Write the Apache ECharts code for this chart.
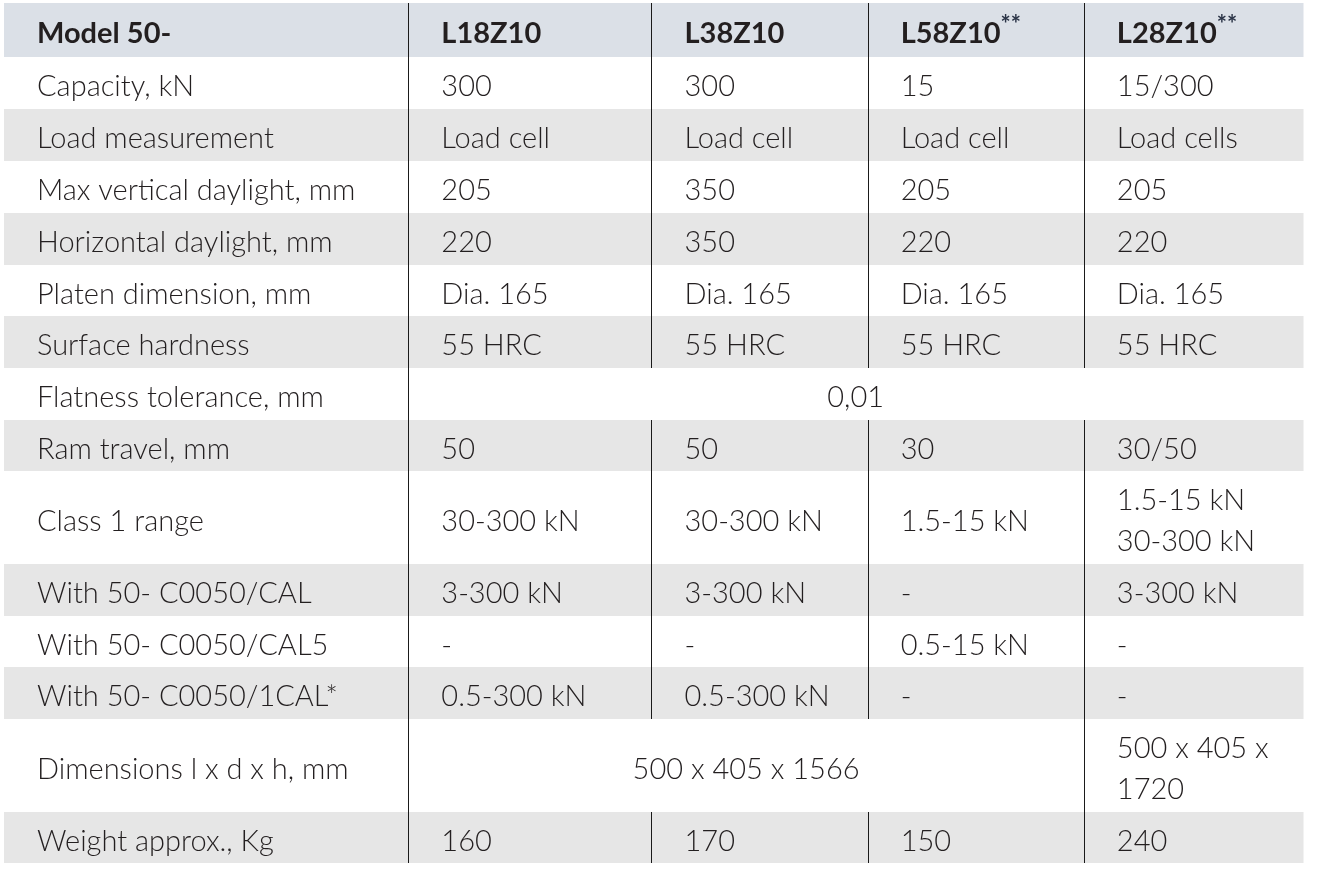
<!DOCTYPE html>
<html>
<head>
<meta charset="utf-8">
<script src="https://cdn.jsdelivr.net/npm/echarts@6/dist/echarts.min.js"></script>
<style>
html,body{margin:0;padding:0;background:#fff;}
#chart{width:1329px;height:877px;}
</style>
</head>
<body>
<div id="chart"></div>
<script>
// ---- data ----
const headerLabel = 'Model 50-';
const models = ['L18Z10', 'L38Z10', 'L58Z10', 'L28Z10'];
const modelNotes = ['', '', '**', '**'];
const rowLabels = [
  'Capacity, kN',
  'Load measurement',
  'Max vertical daylight, mm',
  'Horizontal daylight, mm',
  'Platen dimension, mm',
  'Surface hardness',
  'Flatness tolerance, mm',
  'Ram travel, mm',
  'Class 1 range',
  'With 50- C0050/CAL',
  'With 50- C0050/CAL5',
  'With 50- C0050/1CAL*',
  'Dimensions l x d x h, mm',
  'Weight approx., Kg'
];
const valuesL18Z10 = ['300', 'Load cell', '205', '220', 'Dia. 165', '55 HRC', '0,01', '50', '30-300 kN', '3-300 kN', '-', '0.5-300 kN', '500 x 405 x 1566', '160'];
const valuesL38Z10 = ['300', 'Load cell', '350', '350', 'Dia. 165', '55 HRC', '0,01', '50', '30-300 kN', '3-300 kN', '-', '0.5-300 kN', '500 x 405 x 1566', '170'];
const valuesL58Z10 = ['15', 'Load cell', '205', '220', 'Dia. 165', '55 HRC', '0,01', '30', '1.5-15 kN', '-', '0.5-15 kN', '-', '500 x 405 x 1566', '150'];
const valuesL28Z10 = ['15/300', 'Load cells', '205', '220', 'Dia. 165', '55 HRC', '0,01', '30/50', '1.5-15 kN\n30-300 kN', '3-300 kN', '-', '-', '500 x 405 x\n1720', '240'];
// merged value cells: row label, first and last model column spanned
const merges = [
  { row: 'Flatness tolerance, mm', from: 0, to: 3 },
  { row: 'Dimensions l x d x h, mm', from: 0, to: 2 }
];

// ---- layout (relative units mapped by the axes) ----
const colWidths = [404, 243, 216, 216, 219];
const rowHeights = [54, 52, 52, 52, 52, 51, 52, 52, 51, 93, 52, 51, 52, 93, 51];
const colEdges = [0]; colWidths.forEach(w => colEdges.push(colEdges[colEdges.length - 1] + w));
const rowEdges = [0]; rowHeights.forEach(h => rowEdges.push(rowEdges[rowEdges.length - 1] + h));

const valueCols = [valuesL18Z10, valuesL38Z10, valuesL58Z10, valuesL28Z10];

// build cell list
const cells = [];
function addCell(r, c0, c1, text, kind, align) {
  cells.push({ r, c0, c1, text, kind, align });
}
addCell(0, 0, 1, headerLabel, 'head', 'left');
models.forEach((m, i) => addCell(0, i + 1, i + 2, m, 'head', 'left'));
rowLabels.forEach((lab, ri) => {
  const r = ri + 1;
  addCell(r, 0, 1, lab, 'body', 'left');
  const mg = merges.find(x => x.row === lab);
  for (let i = 0; i < models.length; i++) {
    if (mg && i >= mg.from && i <= mg.to) {
      if (i === mg.from) addCell(r, i + 1, mg.to + 2, valueCols[i][ri], 'body', 'center');
      continue;
    }
    addCell(r, i + 1, i + 2, valueCols[i][ri], 'body', 'left');
  }
});

const seriesData = cells.map(c => [colEdges[c.c0], colEdges[c.c1], rowEdges[c.r], rowEdges[c.r + 1]]);

const FONT = 'Lato';
const TXT = '#231f20';

function renderItem(params, api) {
  const c = cells[params.dataIndex];
  const p0 = api.coord([api.value(0), api.value(2)]);
  const p1 = api.coord([api.value(1), api.value(3)]);
  const x0 = p0[0], y0 = p0[1], x1 = p1[0], y1 = p1[1];
  let bg = '#ffffff';
  if (c.r === 0) bg = '#dbe0e7';
  else if (c.r % 2 === 0) bg = '#e6e6e6';
  const children = [{
    type: 'rect',
    shape: { x: x0, y: y0, width: x1 - x0 + 0.5, height: y1 - y0 },
    style: { fill: bg }
  }];
  let text = c.text;
  let rich = {
    n: { fontFamily: FONT, fontSize: 29, fontWeight: c.kind === 'head' ? 'bold' : 300, fill: TXT, lineHeight: 41 },
    s: { fontFamily: FONT, fontSize: 24, fontWeight: 'bold', fill: '#2b3447', verticalAlign: 'top', lineHeight: 30 }
  };
  let str;
  if (c.kind === 'head' && c.c0 > 0 && modelNotes[c.c0 - 1]) {
    str = '{n|' + text + '}{s|' + modelNotes[c.c0 - 1] + '}';
  } else {
    str = text.split('\n').map(t => '{n|' + t + '}').join('\n');
  }
  const tx = c.align === 'center' ? (x0 + x1) / 2 : x0 + 33;
  children.push({
    type: 'text',
    style: {
      text: str, rich: rich,
      x: tx, y: (y0 + y1) / 2 + 4,
      align: c.align, verticalAlign: 'middle'
    }
  });
  if (c.c0 > 0) {
    const lx = Math.round(x0) + 0.5;
    children.push({
      type: 'line',
      shape: { x1: lx, y1: y0, x2: lx, y2: y1 },
      style: { stroke: '#1a1a1a', lineWidth: 1 }
    });
  }
  return { type: 'group', children };
}

const chart = echarts.init(document.getElementById('chart'));
chart.setOption({
  animation: false,
  grid: { left: 4, right: 26, top: 3, bottom: 14 },
  xAxis: { type: 'value', min: 0, max: colEdges[colEdges.length - 1], show: false },
  yAxis: { type: 'value', min: 0, max: rowEdges[rowEdges.length - 1], inverse: true, show: false },
  series: [{
    type: 'custom',
    coordinateSystem: 'cartesian2d',
    renderItem: renderItem,
    data: seriesData,
    encode: { x: [0, 1], y: [2, 3] },
    silent: true
  }]
});
</script>
</body>
</html>
